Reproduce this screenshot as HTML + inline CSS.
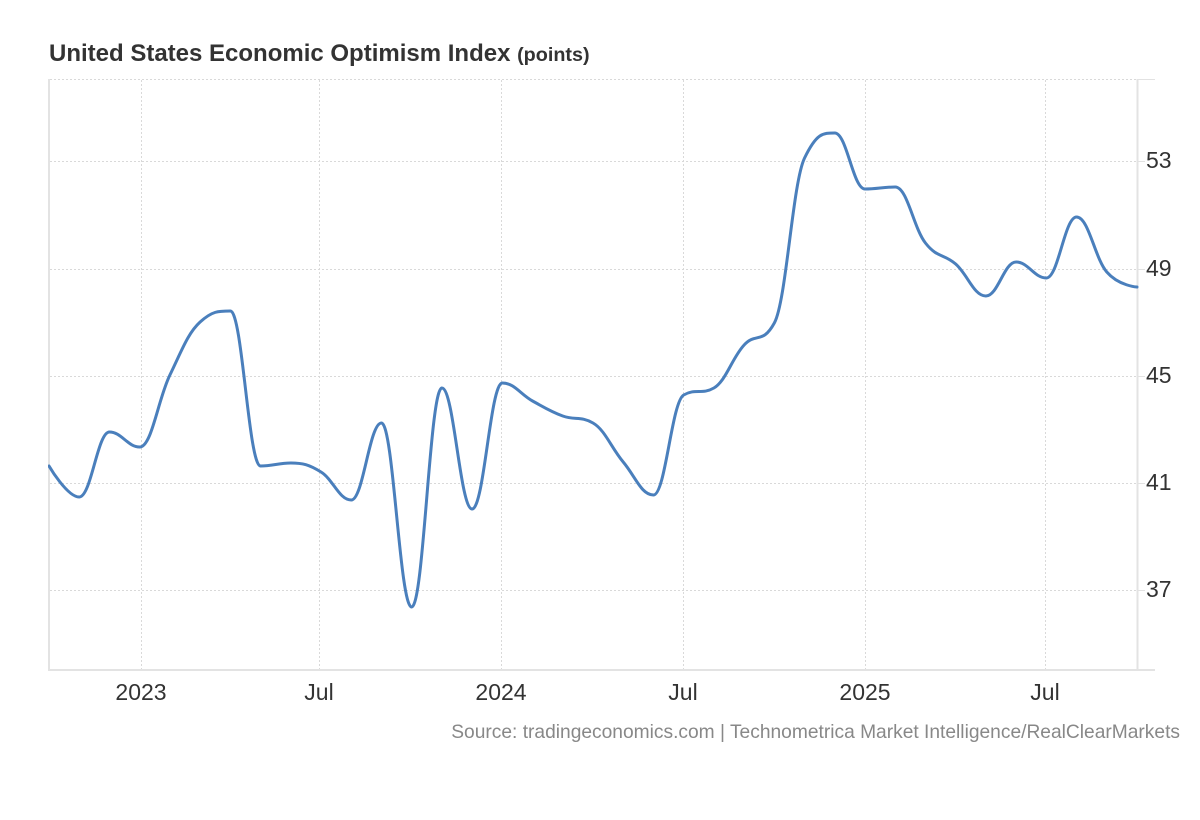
<!DOCTYPE html>
<html>
<head>
<meta charset="utf-8">
<style>
  html, body { margin: 0; padding: 0; background: #ffffff; }
  svg { display: block; }
  text { font-family: "Liberation Sans", Arial, sans-serif; }
</style>
</head>
<body>
<svg id="chart" width="1200" height="820" viewBox="0 0 1200 820" xmlns="http://www.w3.org/2000/svg">
  <rect x="0" y="0" width="1200" height="820" fill="#ffffff"/>

  <!-- Title -->
  <text x="49" y="61" font-size="24" font-weight="bold" fill="#333333">United States Economic Optimism Index <tspan font-size="19.8">(points)</tspan></text>

  <!-- horizontal dotted grid -->
  <g stroke="#d9d9d9" stroke-width="1" stroke-dasharray="2,2" fill="none">
    <line x1="50" y1="79.5" x2="1137" y2="79.5"/>
    <line x1="50" y1="161.5" x2="1137" y2="161.5"/>
    <line x1="50" y1="269.5" x2="1137" y2="269.5"/>
    <line x1="50" y1="376.5" x2="1137" y2="376.5"/>
    <line x1="50" y1="483.5" x2="1137" y2="483.5"/>
    <line x1="50" y1="590.5" x2="1137" y2="590.5"/>
  </g>
  <!-- vertical dotted grid -->
  <g stroke="#d9d9d9" stroke-width="1" stroke-dasharray="2,2" fill="none">
    <line x1="141.5" y1="80" x2="141.5" y2="669"/>
    <line x1="319.5" y1="80" x2="319.5" y2="669"/>
    <line x1="501.5" y1="80" x2="501.5" y2="669"/>
    <line x1="683.5" y1="80" x2="683.5" y2="669"/>
    <line x1="865.5" y1="80" x2="865.5" y2="669"/>
    <line x1="1045.5" y1="80" x2="1045.5" y2="669"/>
  </g>
  <!-- right ticks -->
  <g stroke="#e2e2e2" stroke-width="1">
    <line x1="1137" y1="79.5" x2="1155" y2="79.5"/>
    <line x1="1137" y1="161.5" x2="1145" y2="161.5"/>
    <line x1="1137" y1="269.5" x2="1145" y2="269.5"/>
    <line x1="1137" y1="376.5" x2="1145" y2="376.5"/>
    <line x1="1137" y1="483.5" x2="1145" y2="483.5"/>
    <line x1="1137" y1="590.5" x2="1145" y2="590.5"/>
  </g>
  <!-- axes -->
  <g stroke="#e3e3e3" stroke-width="2" fill="none">
    <line x1="49" y1="79" x2="49" y2="671"/>
    <line x1="1137.5" y1="79" x2="1137.5" y2="671"/>
    <line x1="48" y1="670" x2="1155" y2="670"/>
  </g>

  <!-- Y labels -->
  <g font-size="23" fill="#333333">
    <text x="1146" y="168">53</text>
    <text x="1146" y="276">49</text>
    <text x="1146" y="383">45</text>
    <text x="1146" y="490">41</text>
    <text x="1146" y="597">37</text>
  </g>
  <!-- X labels -->
  <g font-size="23" fill="#333333" text-anchor="middle">
    <text x="141" y="700">2023</text>
    <text x="319" y="700">Jul</text>
    <text x="501" y="700">2024</text>
    <text x="683" y="700">Jul</text>
    <text x="865" y="700">2025</text>
    <text x="1045" y="700">Jul</text>
  </g>

  <!-- Source -->
  <text x="1180" y="738" font-size="19.2" fill="#888888" text-anchor="end">Source: tradingeconomics.com | Technometrica Market Intelligence/RealClearMarkets</text>

  <defs>
    <clipPath id="plotclip"><rect x="48" y="60" width="1092" height="612"/></clipPath>
  </defs>
  <path id="series" clip-path="url(#plotclip)" fill="none" stroke="#4a7fbc" stroke-width="3" stroke-linejoin="round" stroke-linecap="round"
    d="M49,466 L79.2,497 L109.4,432 L139.7,447 L169.9,375 L200.1,322 L230.3,311 L260.6,466 L290.8,463 L321,472 L351.2,500 L381.4,423 L411.7,607 L441.9,388 L472.1,509 L502.3,383 L532.6,401 L562.8,416 L593,423 L623.2,462 L653.4,495 L683.7,395 L713.9,388 L744.1,345 L774.3,323 L804.6,158 L834.8,133 L865,189 L895.2,187 L925.4,243 L955.7,264 L985.9,296 L1016.1,262 L1046.3,278 L1076.6,217 L1106.8,272 L1137,287"/>
</svg>
<script>
(function(){
  var ys = [466,497,432,447,375,322,311,466,463,472,500,423,607,388,509,383,401,416,423,462,495,395,388,345,323,158,133,189,187,243,264,296,262,278,217,272,287];
  var n = ys.length;
  var step = (1137-49)/(n-1);
  var pts = ys.map(function(y,i){ return {x:49+i*step, y:y}; });
  var sm = 1.5, den = sm + 1;
  var d = "M" + pts[0].x.toFixed(2) + "," + pts[0].y.toFixed(2);
  for (var i = 1; i < n; i++) {
    var p = pts[i], last = pts[i-1], next = pts[i+1];
    var lcx, lcy, rcx, rcy;
    if (next) {
      lcx = (sm*p.x + last.x)/den; lcy = (sm*p.y + last.y)/den;
      rcx = (sm*p.x + next.x)/den; rcy = (sm*p.y + next.y)/den;
      var corr = 0;
      if (rcx !== lcx) corr = ((rcy - lcy)*(rcx - p.x))/(rcx - lcx) + p.y - rcy;
      lcy += corr; rcy += corr;
      if (lcy > last.y && lcy > p.y) { lcy = Math.max(last.y, p.y); rcy = 2*p.y - lcy; }
      else if (lcy < last.y && lcy < p.y) { lcy = Math.min(last.y, p.y); rcy = 2*p.y - lcy; }
      if (rcy > next.y && rcy > p.y) { rcy = Math.max(next.y, p.y); lcy = 2*p.y - rcy; }
      else if (rcy < next.y && rcy < p.y) { rcy = Math.min(next.y, p.y); lcy = 2*p.y - rcy; }
      p.rcx = rcx; p.rcy = rcy;
    } else { lcx = p.x; lcy = p.y; }
    var c1x = (last.rcx !== undefined) ? last.rcx : last.x;
    var c1y = (last.rcy !== undefined) ? last.rcy : last.y;
    d += " C" + c1x.toFixed(2) + "," + c1y.toFixed(2) + " " + lcx.toFixed(2) + "," + lcy.toFixed(2) + " " + p.x.toFixed(2) + "," + p.y.toFixed(2);
  }
  document.getElementById("series").setAttribute("d", d);
})();
</script>
</body>
</html>
